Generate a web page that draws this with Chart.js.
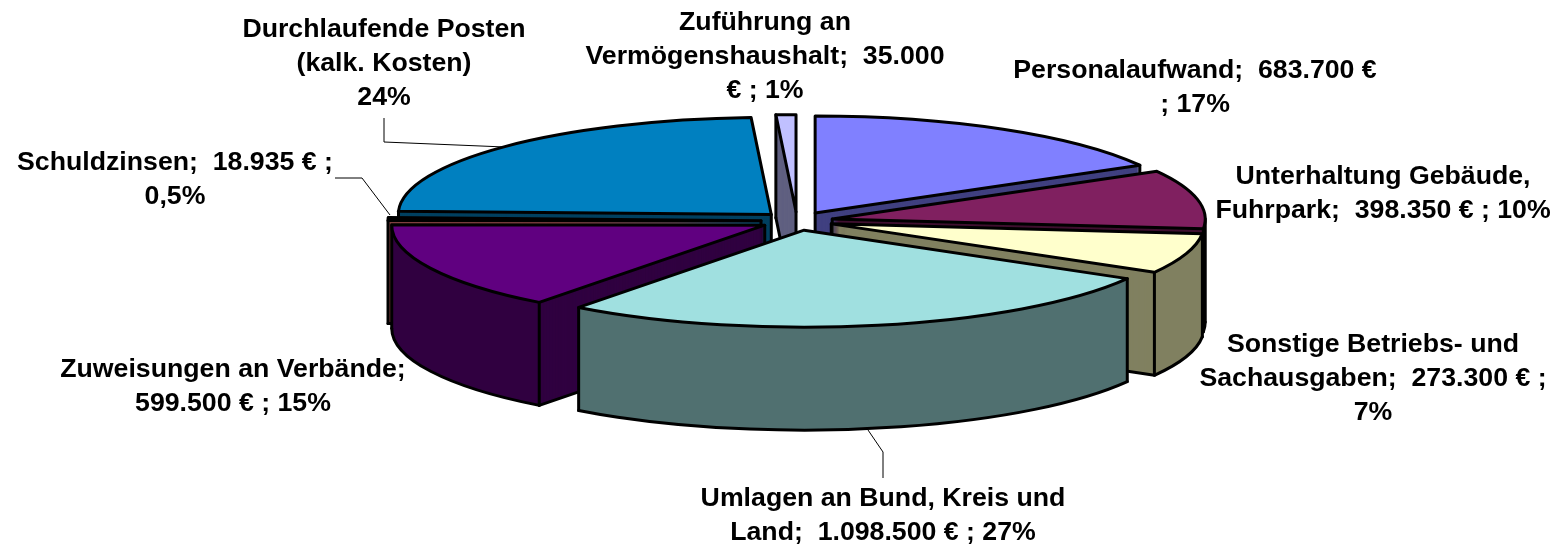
<!DOCTYPE html>
<html lang="de">
<head>
<meta charset="utf-8">
<title>Ausgaben</title>
<script src="https://cdn.jsdelivr.net/npm/chart.js@4/dist/chart.umd.min.js"></script>
<style>
  html, body { margin:0; padding:0; background:#fff; }
  canvas { display:block; }
</style>
</head>
<body>
<canvas id="pie" width="1561" height="549"></canvas>
<script>
// data, clockwise from 12 o'clock
const categories = ['Personalaufwand', 'Unterhaltung Gebäude, Fuhrpark', 'Sonstige Betriebs- und Sachausgaben',
  'Umlagen an Bund, Kreis und Land', 'Zuweisungen an Verbände', 'Schuldzinsen',
  'Durchlaufende Posten (kalk. Kosten)', 'Zuführung an Vermögenshaushalt'];
const values = [683700, 398350, 273300, 1098500, 599500, 18935, 960000, 35000];
const labelLines = [
  ['Personalaufwand;  683.700 €', '; 17%'],
  ['Unterhaltung Gebäude,', 'Fuhrpark;  398.350 € ; 10%'],
  ['Sonstige Betriebs- und', 'Sachausgaben;  273.300 € ;', '7%'],
  ['Umlagen an Bund, Kreis und', 'Land;  1.098.500 € ; 27%'],
  ['Zuweisungen an Verbände;', '599.500 € ; 15%'],
  ['Schuldzinsen;  18.935 € ;', '0,5%'],
  ['Durchlaufende Posten', '(kalk. Kosten)', '24%'],
  ['Zuführung an', 'Vermögenshaushalt;  35.000', '€ ; 1%']
];

// styles
const topColors = ['#8080FF', '#802060', '#FFFFCC', '#A0E0E0', '#600080', '#FF8080', '#0080C0', '#C0C0FF'];
const wallColors = ['#404080', '#401030', '#808060', '#507070', '#300040', '#804040', '#004060', '#606080'];
const labelPos = [[1195, 71], [1383, 177], [1373, 345], [883, 499], [233, 370], [175, 163], [384, 30], [765, 23]];
const leaders = [
  [[384, 118], [384, 142], [505, 147]],
  [[335, 178], [362, 178], [390, 215]],
  [[883, 478], [883, 452], [868, 430]]
];
const SQUASH = 0.26;   // tilt of the pie
const DEPTH = 103;     // wall height
const EXPLODE = 36;    // how far the slices move out
const LINE = 3;

// stroke with a plain transform so the outline is not squashed with the pie
function plainStroke(ctx){
  ctx.save();
  ctx.setTransform(1, 0, 0, 1, 0, 0);
  CanvasRenderingContext2D.prototype.stroke.call(ctx);
  ctx.restore();
}

function drawWith(ctx, arc, overrides){
  const opts = arc.options;
  arc.options = Object.assign({}, opts, overrides);
  arc.draw(ctx);
  arc.options = opts;
}

const pie3d = {
  id:'pie3d',
  beforeDatasetsDraw(chart){
    const ctx = chart.ctx;
    const arcs = chart.getDatasetMeta(0).data;
    const order = arcs.map((a, i)=>i).sort((p, q)=>{
      const mid = a=>(a.startAngle + a.endAngle) / 2;
      return Math.sin(mid(arcs[p])) - Math.sin(mid(arcs[q]));
    });
    ctx.stroke = ()=>plainStroke(ctx);

    order.forEach(i=>{
      const arc = arcs[i];
      const {x, y, startAngle, endAngle, outerRadius} = arc;
      const mid = (startAngle + endAngle) / 2;
      const ox = Math.cos(mid) * EXPLODE;
      const oy = Math.sin(mid) * EXPLODE;

      const place = d=>{
        ctx.setTransform(1, 0, 0, 1, 0, 0);
        ctx.translate(x, y + d);
        ctx.scale(1, SQUASH);
        ctx.translate(-x + ox, -y + oy);
      };
      const px = a=>[x + ox + Math.cos(a) * outerRadius, y + (oy + Math.sin(a) * outerRadius) * SQUASH];

      ctx.save();
      // wall: the same slice stacked upwards
      for(let d = DEPTH; d > 0; d--){
        place(d);
        drawWith(ctx, arc, {backgroundColor:wallColors[i], borderWidth:0});
      }

      // the front half of the rim, 0..PI on the canvas, also once round
      const rims = [0, 2 * Math.PI].map(turn=>[Math.max(startAngle, turn), Math.min(endAngle, turn + Math.PI)])
        .filter(r=>r[1] > r[0]);

      // one flat fill over the rim so the stacked copies leave no stripes
      ctx.fillStyle = wallColors[i];
      rims.forEach(r=>{
        ctx.beginPath();
        place(0);
        ctx.arc(x, y, outerRadius, r[0], r[1]);
        place(DEPTH);
        ctx.arc(x, y, outerRadius, r[1], r[0], true);
        ctx.closePath();
        ctx.fill();
      });

      const startWall = Math.cos(startAngle) < -1e-6;
      const endWall = Math.cos(endAngle) > 1e-6;
      ctx.strokeStyle = '#000';
      ctx.lineWidth = LINE;
      ctx.lineCap = 'round';
      ctx.lineJoin = 'round';

      // bottom edge of the visible walls
      place(DEPTH);
      ctx.beginPath();
      if(startWall){
        ctx.moveTo(x, y);
        ctx.lineTo(x + Math.cos(startAngle) * outerRadius, y + Math.sin(startAngle) * outerRadius);
      }
      if(endWall){
        ctx.moveTo(x, y);
        ctx.lineTo(x + Math.cos(endAngle) * outerRadius, y + Math.sin(endAngle) * outerRadius);
      }
      rims.forEach(r=>{
        ctx.moveTo(x + Math.cos(r[0]) * outerRadius, y + Math.sin(r[0]) * outerRadius);
        ctx.arc(x, y, outerRadius, r[0], r[1]);
      });
      plainStroke(ctx);

      // vertical edges of the wall
      ctx.setTransform(1, 0, 0, 1, 0, 0);
      const edges = [];
      if(startWall || Math.sin(startAngle) > 0) edges.push(px(startAngle));
      if(endWall || Math.sin(endAngle) > 0) edges.push(px(endAngle));
      if(startWall || endWall) edges.push([x + ox, y + oy * SQUASH]);
      [0, Math.PI, 2 * Math.PI].forEach(a=>{
        if(a > startAngle && a < endAngle) edges.push(px(a));
      });
      edges.forEach(e=>{
        ctx.beginPath();
        ctx.moveTo(e[0], e[1]);
        ctx.lineTo(e[0], e[1] + DEPTH);
        plainStroke(ctx);
      });
      // top face
      place(0);
      arc.draw(ctx);
      ctx.restore();
    });
    delete ctx.stroke;
    return false;
  },
  afterDraw(chart){
    const ctx = chart.ctx;
    ctx.save();
    // leader lines
    ctx.strokeStyle = '#000';
    ctx.lineWidth = 1;
    leaders.forEach(l=>{
      ctx.beginPath();
      l.forEach((p, n)=> n ? ctx.lineTo(p[0], p[1]) : ctx.moveTo(p[0], p[1]));
      ctx.stroke();
    });
    // data labels
    ctx.fillStyle = '#000';
    ctx.font = 'bold 26.7px "Liberation Sans", Arial, sans-serif';
    ctx.textAlign = 'center';
    ctx.textBaseline = 'middle';
    labelLines.forEach((lines, i)=>{
      lines.forEach((t, n)=>{
        ctx.fillText(t, labelPos[i][0], labelPos[i][1] + n * 34);
      });
    });
    ctx.restore();
  }
};

new Chart(document.getElementById('pie').getContext('2d'), {
  type:'pie',
  plugins:[pie3d],
  data:{
    labels:categories,
    datasets:[{
      data:values,
      backgroundColor:topColors,
      borderColor:'#000',
      borderWidth:LINE,
      borderJoinStyle:'round',
      radius:373
    }]
  },
  options:{
    responsive:false,
    animation:false,
    devicePixelRatio:1,
    layout:{padding:{left:33, right:0, top:0, bottom:107}},
    plugins:{legend:{display:false}, tooltip:{enabled:false}},
    events:[]
  }
});
</script>
</body>
</html>
